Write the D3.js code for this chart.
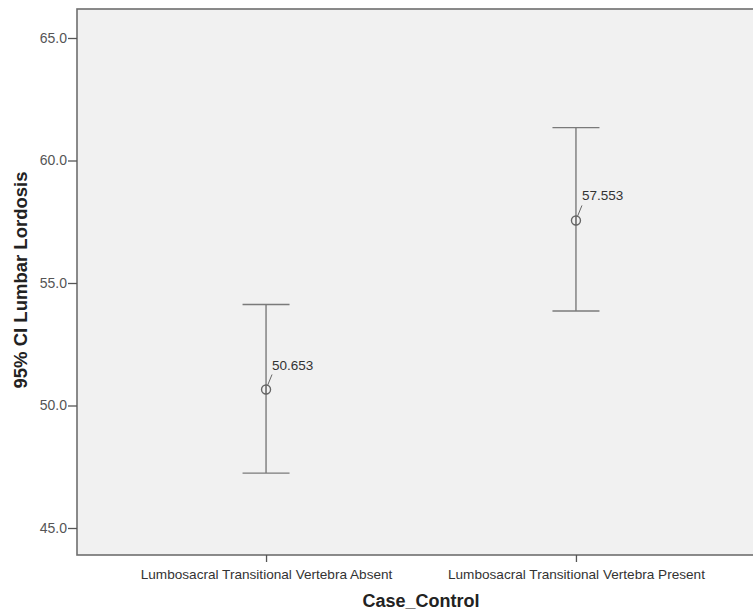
<!DOCTYPE html>
<html>
<head>
<meta charset="utf-8">
<script src="https://cdn.jsdelivr.net/npm/d3@7"></script>
<style>
    body { margin: 0; background: #fff; }
    text { font-family: "Liberation Sans", Arial, sans-serif; }
</style>
</head>
<body>
<div id="chart"></div>
<script>
const categories = ['Lumbosacral Transitional Vertebra Absent', 'Lumbosacral Transitional Vertebra Present'];
const means = [50.653, 57.553];
const lowerCI = [47.24, 53.86];
const upperCI = [54.12, 61.34];
const yTicks = [45, 50, 55, 60, 65];

const width = 753;
const height = 611;
const plot = { left: 77, top: 9, right: 765, bottom: 555 };

const svg = d3.select('#chart').append('svg')
    .attr('width', width)
    .attr('height', height);

const x = d3.scalePoint()
    .domain(categories)
    .range([plot.left, plot.right])
    .padding(0.61);

const y = d3.scaleLinear()
    .domain([45 - (plot.bottom - 528) / 24.5, 65 + (38 - plot.top) / 24.5])
    .range([plot.bottom, plot.top]);

// plot background + frame
svg.append('rect')
    .attr('x', plot.left)
    .attr('y', plot.top)
    .attr('width', plot.right - plot.left)
    .attr('height', plot.bottom - plot.top)
    .style('fill', '#f1f1f1')
    .style('stroke', '#6e6e6e')
    .style('stroke-width', 1.6);

// y axis
const yAxis = svg.append('g')
    .attr('transform', `translate(${plot.left},0)`)
    .call(d3.axisLeft(y).tickValues(yTicks).tickFormat(d3.format('.1f')).tickSize(9).tickPadding(1));
yAxis.select('.domain').remove();
yAxis.selectAll('line').style('stroke', '#555').style('stroke-width', 1.3);
yAxis.selectAll('text').style('font-size', '14px').style('fill', '#555');

// x axis
const xAxis = svg.append('g')
    .attr('transform', `translate(0,${plot.bottom})`)
    .call(d3.axisBottom(x).tickSize(7).tickPadding(7));
xAxis.select('.domain').remove();
xAxis.selectAll('line').style('stroke', '#555').style('stroke-width', 1.3);
xAxis.selectAll('text').style('font-size', '13.6px').style('fill', '#333');

const rows = categories.map((c, i) => ({ cat: c, mean: means[i], lo: lowerCI[i], hi: upperCI[i] }));
const capHalf = 23.5;

const bars = svg.selectAll('.bar')
    .data(rows)
    .enter().append('g')
    .attr('class', 'bar')
    .style('stroke', '#7a7a7a')
    .style('stroke-width', 1.4);

bars.append('line')
    .attr('x1', d => x(d.cat))
    .attr('x2', d => x(d.cat))
    .attr('y1', d => y(d.hi))
    .attr('y2', d => y(d.mean) + 5)
    .attr('class', 'whisker');
bars.append('line')
    .attr('x1', d => x(d.cat))
    .attr('x2', d => x(d.cat))
    .attr('y1', d => y(d.mean) - 5)
    .attr('y2', d => y(d.lo));
bars.append('line')
    .attr('x1', d => x(d.cat) - capHalf)
    .attr('x2', d => x(d.cat) + capHalf)
    .attr('y1', d => y(d.hi))
    .attr('y2', d => y(d.hi));
bars.append('line')
    .attr('x1', d => x(d.cat) - capHalf)
    .attr('x2', d => x(d.cat) + capHalf)
    .attr('y1', d => y(d.lo))
    .attr('y2', d => y(d.lo));

// mean marker
bars.append('circle')
    .attr('cx', d => x(d.cat))
    .attr('cy', d => y(d.mean))
    .attr('r', 4.5)
    .style('fill', 'none')
    .style('stroke', '#666');

// leader line + value label
bars.append('line')
    .attr('x1', d => x(d.cat) + 1.5)
    .attr('x2', d => x(d.cat) + 6)
    .attr('y1', d => y(d.mean) - 4)
    .attr('y2', d => y(d.mean) - 15)
    .style('stroke', '#666')
    .style('stroke-width', 1);
bars.append('text')
    .attr('x', d => x(d.cat) + 6)
    .attr('y', d => y(d.mean) - 20)
    .style('stroke', 'none')
    .style('fill', '#333')
    .style('font-size', '13.5px')
    .text(d => d.mean.toFixed(3));

// axis titles
svg.append('text')
    .attr('transform', `translate(27,280) rotate(-90)`)
    .style('text-anchor', 'middle')
    .style('font-size', '18.5px')
    .style('font-weight', 'bold')
    .style('fill', '#222')
    .text('95% CI Lumbar Lordosis');

svg.append('text')
    .attr('x', (x(categories[0]) + x(categories[1])) / 2)
    .attr('y', 607)
    .style('text-anchor', 'middle')
    .style('font-size', '18px')
    .style('font-weight', 'bold')
    .style('fill', '#222')
    .text('Case_Control');
</script>
</body>
</html>
